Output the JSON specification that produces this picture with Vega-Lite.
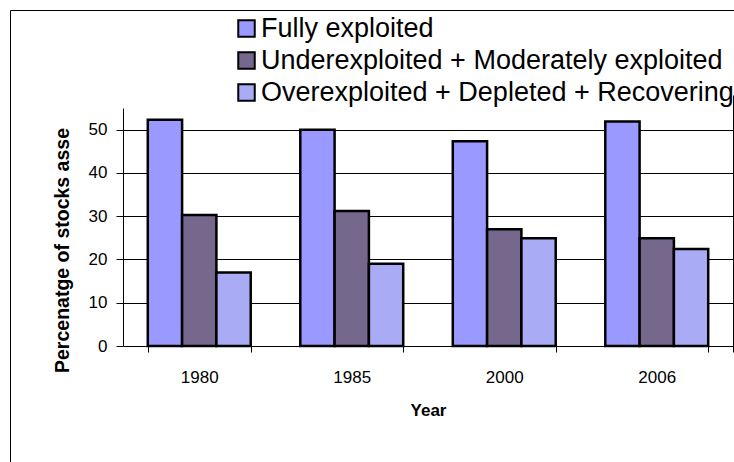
{
  "$schema": "https://vega.github.io/schema/vega-lite/v6.json",
  "width": 610,
  "height": 238,
  "autosize": {"type": "none"},
  "padding": {"left": 123, "top": 108, "right": 1, "bottom": 116},
  "config": {
    "font": "Liberation Sans",
    "view": {"stroke": null},
    "axis": {
      "domainColor": "#000000",
      "tickColor": "#000000",
      "labelColor": "#000000",
      "titleColor": "#000000",
      "labelFont": "Liberation Sans",
      "titleFont": "Liberation Sans"
    }
  },
  "data": {
    "values": [
      {"Year": "1980", "Category": "Fully exploited", "Percent": 52.3},
      {"Year": "1980", "Category": "Underexploited + Moderately exploited", "Percent": 30.3},
      {"Year": "1980", "Category": "Overexploited + Depleted + Recovering", "Percent": 17.0},
      {"Year": "1985", "Category": "Fully exploited", "Percent": 50.0},
      {"Year": "1985", "Category": "Underexploited + Moderately exploited", "Percent": 31.2},
      {"Year": "1985", "Category": "Overexploited + Depleted + Recovering", "Percent": 19.0},
      {"Year": "2000", "Category": "Fully exploited", "Percent": 47.3},
      {"Year": "2000", "Category": "Underexploited + Moderately exploited", "Percent": 27.0},
      {"Year": "2000", "Category": "Overexploited + Depleted + Recovering", "Percent": 24.9},
      {"Year": "2006", "Category": "Fully exploited", "Percent": 51.9},
      {"Year": "2006", "Category": "Underexploited + Moderately exploited", "Percent": 24.9},
      {"Year": "2006", "Category": "Overexploited + Depleted + Recovering", "Percent": 22.4}
    ]
  },
  "resolve": {"scale": {"x": "independent", "y": "independent"}},
  "layer": [
    {
      "mark": {"type": "bar", "stroke": "#000000", "strokeWidth": 2.5},
      "encoding": {
        "x": {
          "field": "Year",
          "type": "nominal",
          "sort": ["1980", "1985", "2000", "2006"],
          "scale": {"paddingInner": 0.325, "paddingOuter": 0.1625},
          "axis": {
            "orient": "bottom",
            "tickBand": "extent",
            "tickSize": 6,
            "labelAngle": 0,
            "labelFontSize": 17,
            "labelPadding": 17,
            "title": "Year",
            "titleFontSize": 17,
            "titleFontWeight": "bold",
            "titlePadding": 17
          }
        },
        "xOffset": {
          "field": "Category",
          "type": "nominal",
          "sort": ["Fully exploited", "Underexploited + Moderately exploited", "Overexploited + Depleted + Recovering"],
          "scale": {"paddingInner": 0, "paddingOuter": 0}
        },
        "y": {
          "field": "Percent",
          "type": "quantitative",
          "scale": {"domain": [0, 55], "nice": false},
          "axis": {
            "orient": "left",
            "values": [0, 10, 20, 30, 40, 50],
            "grid": true,
            "gridColor": "#000000",
            "gridWidth": 1,
            "tickSize": 7,
            "labelFontSize": 17,
            "labelPadding": 9,
            "title": "Percenatge of stocks asse",
            "titleFontSize": 19.5,
            "titleFontWeight": "bold",
            "titleAngle": -90,
            "titleAlign": "center",
            "titleBaseline": "middle",
            "titleX": -61,
            "titleY": 142
          }
        },
        "color": {
          "field": "Category",
          "type": "nominal",
          "sort": ["Fully exploited", "Underexploited + Moderately exploited", "Overexploited + Depleted + Recovering"],
          "scale": {
            "domain": ["Fully exploited", "Underexploited + Moderately exploited", "Overexploited + Depleted + Recovering"],
            "range": ["#9999ff", "#76678c", "#a9abf4"]
          },
          "legend": {
            "orient": "none",
            "legendX": 110,
            "legendY": -93,
            "title": null,
            "padding": 0,
            "symbolType": "square",
            "symbolSize": 272,
            "symbolStrokeColor": "#000000",
            "symbolStrokeWidth": 2,
            "symbolOpacity": 1,
            "labelFontSize": 27,
            "labelColor": "#000000",
            "labelOffset": 1,
            "labelLimit": 700,
            "rowPadding": 4
          }
        }
      }
    },
    {
      "mark": {"type": "point", "opacity": 0},
      "encoding": {
        "x": {
          "datum": 0,
          "type": "quantitative",
          "scale": {"domain": [0, 1], "range": [-113, 611]},
          "axis": {"orient": "top", "offset": 98, "domain": true, "domainWidth": 1, "ticks": false, "labels": false, "grid": false, "title": null}
        },
        "y": {
          "datum": 0,
          "type": "quantitative",
          "scale": {"domain": [0, 1], "range": [354, -98]},
          "axis": {"orient": "left", "offset": 113, "domain": true, "domainWidth": 1, "ticks": false, "labels": false, "grid": false, "title": null}
        }
      }
    },
    {
      "mark": {"type": "point", "opacity": 0},
      "encoding": {
        "y": {
          "datum": 0,
          "type": "quantitative",
          "scale": {"domain": [0, 1], "range": [244, -13]},
          "axis": {"orient": "right", "offset": 0, "domain": true, "domainWidth": 1, "ticks": false, "labels": false, "grid": false, "title": null}
        }
      }
    }
  ]
}
